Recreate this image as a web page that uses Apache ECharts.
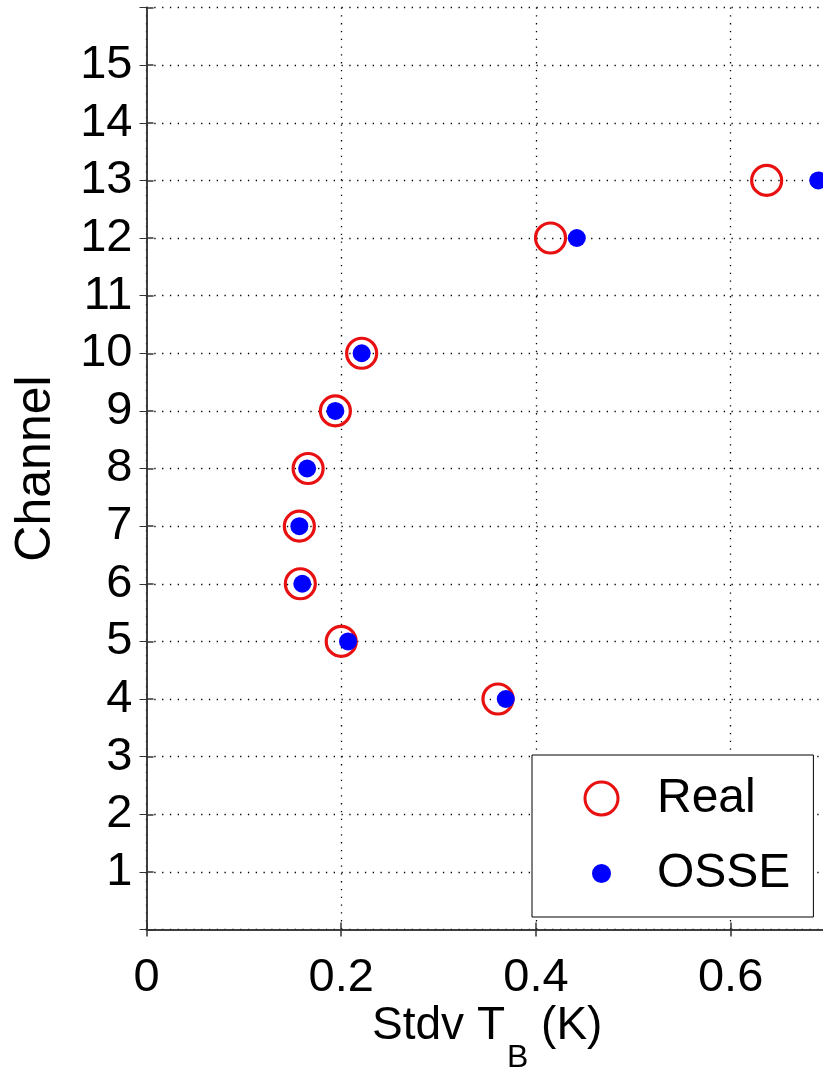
<!DOCTYPE html>
<html>
<head>
<meta charset="utf-8">
<script src="https://cdn.jsdelivr.net/npm/echarts@6/dist/echarts.min.js"></script>
<style>
html,body{margin:0;padding:0;background:#fff;}
#chart{width:823px;height:1071px;}
</style>
</head>
<body>
<div id="chart"></div>
<script>
// Data
const channels = [4, 5, 6, 7, 8, 9, 10, 12, 13];
const realStdv = [0.361, 0.200, 0.158, 0.157, 0.166, 0.194, 0.221, 0.415, 0.637];
const osseStdv = [0.369, 0.207, 0.160, 0.157, 0.165, 0.194, 0.221, 0.442, 0.690];
const seriesNames = ['Real', 'OSSE'];
const xTicks = [0, 0.2, 0.4, 0.6];
const yTickLabels = [1,2,3,4,5,6,7,8,9,10,11,12,13,14,15];

const FONT = '"Liberation Sans", Arial, Helvetica, sans-serif';
const realPts = channels.map((c, i) => [realStdv[i], c]);
const ossePts = channels.map((c, i) => [osseStdv[i], c]);

const chart = echarts.init(document.getElementById('chart'), null, {renderer: 'canvas'});
const gridLine = {show: true, lineStyle: {color: '#000', width: 1.3, type: [1.3, 6.5]}};
const axisLine = {show: true, lineStyle: {color: '#333', width: 1.5}};

chart.setOption({
  animation: false,
  backgroundColor: '#fff',
  grid: {left: 146.5, top: 7.5, right: -5, bottom: 141.5, containLabel: false, outerBoundsMode: 'none'},
  xAxis: [{
    type: 'value', min: 0, max: 0.7, interval: 0.2, position: 'bottom',
    axisLine: axisLine,
    axisTick: {show: true, inside: true, length: 7, lineStyle: {color: '#333', width: 1.5}},
    splitLine: gridLine,
    axisLabel: {
      fontFamily: FONT, fontSize: 47, color: '#000', margin: 25, showMaxLabel: false,
      formatter: v => (xTicks.some(t => Math.abs(t - v) < 1e-9) ? (v === 0 ? '0' : v.toFixed(1)) : '')
    },
    name: '{a|Stdv T}{b|B}{a| (K)}',
    nameLocation: 'middle', nameGap: 74, nameMoveOverlap: false,
    nameTextStyle: {
      color: '#000',
      rich: {
        a: {fontFamily: FONT, fontSize: 46, color: '#000', lineHeight: 46},
        b: {fontFamily: FONT, fontSize: 32, color: '#000', lineHeight: 32, padding: [64, 0, 0, 2]}
      }
    }
  }, {
    type: 'value', min: 0, max: 0.7, interval: 0.2, position: 'top',
    axisLine: axisLine,
    axisTick: {show: true, inside: true, length: 7, lineStyle: {color: '#333', width: 1.5}},
    axisLabel: {show: false}, splitLine: {show: false}
  }],
  yAxis: [{
    type: 'value', min: 0, max: 16, interval: 1, position: 'left',
    axisLine: axisLine,
    axisTick: {show: true, inside: true, length: 7, lineStyle: {color: '#333', width: 1.5}},
    splitLine: gridLine,
    axisLabel: {
      fontFamily: FONT, fontSize: 47, color: '#000', margin: 14,
      formatter: v => (yTickLabels.indexOf(v) >= 0 ? String(v) : '')
    },
    name: 'Channel', nameLocation: 'middle', nameGap: 85, nameRotate: 90, nameMoveOverlap: false,
    nameTextStyle: {fontFamily: FONT, fontSize: 50, color: '#000'}
  }, {
    type: 'value', min: 0, max: 16, interval: 1, position: 'right',
    axisLine: axisLine,
    axisTick: {show: true, inside: true, length: 7},
    axisLabel: {show: false}, splitLine: {show: false}
  }],
  legend: {
    show: true, orient: 'vertical', left: 532, top: 755,
    selectedMode: false,
    backgroundColor: '#fff', borderColor: '#000', borderWidth: 1,
    padding: [19.5, 23, 19.5, 46],
    itemWidth: 33, itemHeight: 33, itemGap: 27,
    textStyle: {fontFamily: FONT, fontSize: 48, color: '#000', lineHeight: 33, padding: [0, 0, 0, 34]},
    data: [
      {name: seriesNames[0], icon: 'circle',
       itemStyle: {color: 'rgba(0,0,0,0)', borderColor: '#e81010', borderWidth: 3}},
      {name: seriesNames[1], icon: 'circle',
       itemStyle: {color: '#0000ff', borderColor: '#fff', borderWidth: 14}}
    ]
  },
  series: [{
    name: seriesNames[0], type: 'scatter', xAxisIndex: 0, yAxisIndex: 0,
    symbol: 'circle', symbolSize: 30,
    itemStyle: {color: 'rgba(0,0,0,0)', borderColor: '#e81010', borderWidth: 3.2, opacity: 1},
    data: realPts, z: 3
  }, {
    name: seriesNames[1], type: 'scatter', xAxisIndex: 0, yAxisIndex: 0,
    symbol: 'circle', symbolSize: 18,
    itemStyle: {color: '#0000ff', opacity: 1},
    data: ossePts, z: 4
  }]
});
</script>
</body>
</html>
